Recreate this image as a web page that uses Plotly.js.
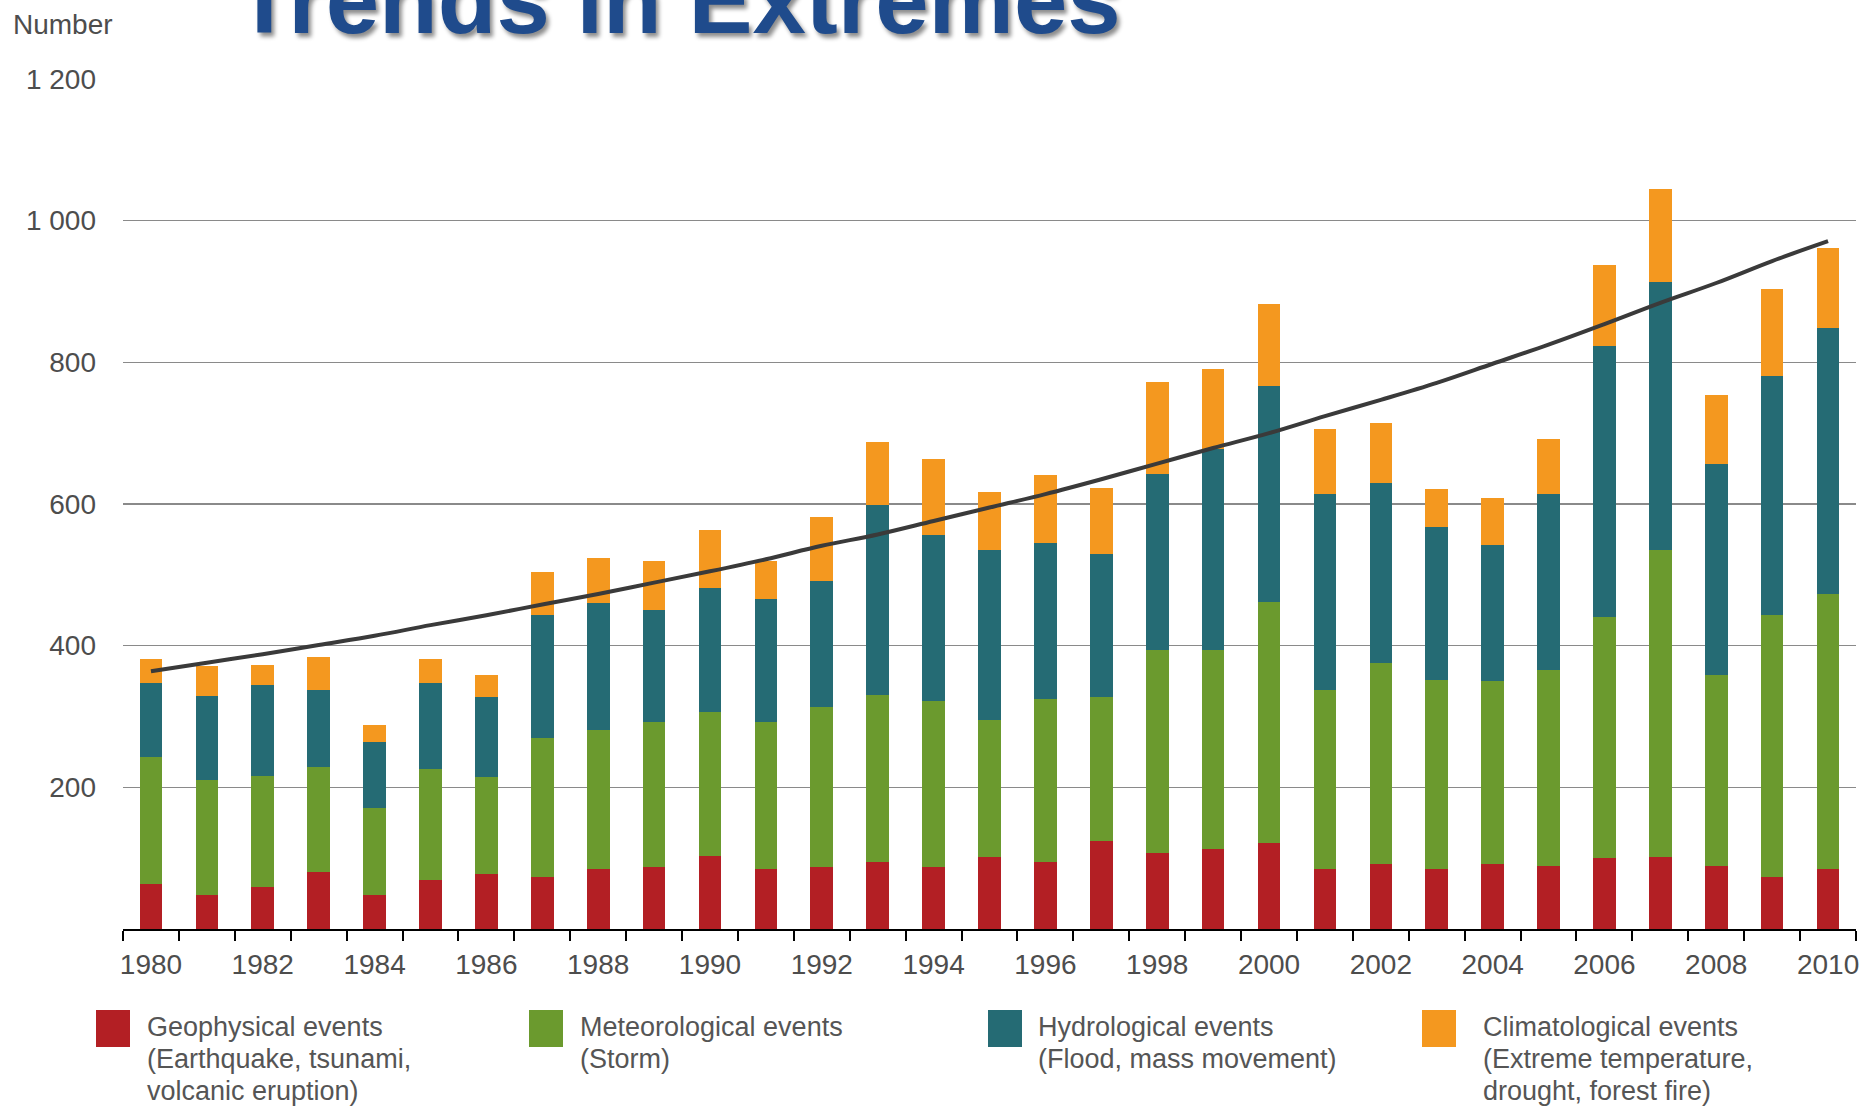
<!DOCTYPE html>
<html>
<head>
<meta charset="utf-8">
<script src="https://cdn.plot.ly/plotly-3.0.1.min.js"></script>
<style>
html,body{margin:0;padding:0;background:#ffffff;}
#chart{width:1866px;height:1106px;}
</style>
</head>
<body>
<div id="chart"></div>
<script>
// ---------------- DATA ----------------
const years = [1980,1981,1982,1983,1984,1985,1986,1987,1988,1989,1990,1991,1992,1993,1994,1995,1996,1997,1998,1999,2000,2001,2002,2003,2004,2005,2006,2007,2008,2009,2010];
const geophysical    = [63,48,59,80,48,69,77,73,85,88,103,85,87,95,88,101,95,124,107,113,122,85,92,85,92,89,100,102,89,74,85];
const meteorological = [180,163,157,149,123,157,138,197,196,204,203,207,227,236,234,194,230,204,287,281,339,252,284,266,258,276,341,433,269,369,388];
const hydrological   = [104,118,128,108,93,121,112,174,179,159,175,174,177,267,234,240,220,202,249,283,305,277,254,217,192,249,382,379,299,338,376];
const climatological = [34,43,29,47,24,34,31,60,64,69,83,54,91,90,107,82,96,92,129,114,116,92,85,53,66,78,115,131,97,123,112];
const trend          = [364,376,388,401,414,429,443,458,473,489,505,522,541,557,576,595,614,635,657,679,700,724,747,771,798,825,854,884,912,943,971];

const seriesNames = ['Geophysical events','Meteorological events','Hydrological events','Climatological events'];
const legendLines = [
  ['Geophysical events','(Earthquake, tsunami,','volcanic eruption)'],
  ['Meteorological events','(Storm)'],
  ['Hydrological events','(Flood, mass movement)'],
  ['Climatological events','(Extreme temperature,','drought, forest fire)']
];
const xTickVals = [1980,1982,1984,1986,1988,1990,1992,1994,1996,1998,2000,2002,2004,2006,2008,2010];
const yTickVals = [200,400,600,800,1000,1200];
const yTickText = ['200','400','600','800','1 000','1 200'];
const chartTitle = 'Trends in Extremes';
const yLabel = 'Number';

// ---------------- STYLE ----------------
const colors = ['#b31f24','#6b9a2e','#256b74','#f4981f'];
const regular = '"Liberation Sans", Arial, sans-serif';
const textGray = '#4d4d4d';

const W = 1866, H = 1106;
const M = {l:123, r:10, t:79, b:177};
const pw = W - M.l - M.r, ph = H - M.t - M.b;
const px = x => (x - M.l) / pw;
const py = y => (H - M.b - y) / ph;

// ---------------- TRACES ----------------
const seriesData = [geophysical, meteorological, hydrological, climatological];
const traces = seriesData.map((vals, i) => ({
  type: 'bar',
  x: years,
  y: vals,
  name: seriesNames[i],
  marker: {color: colors[i], line: {width: 0}},
  hoverinfo: 'x+y+name'
}));
traces.push({
  type: 'scatter',
  mode: 'lines',
  x: years,
  y: trend,
  name: 'Trend',
  line: {color: '#3a3a3a', width: 4, shape: 'spline'},
  hoverinfo: 'skip'
});

// ---------------- LEGEND (drawn) ----------------
const legendSquareX = [96, 529, 988, 1422];
const legendTextX = [145, 578, 1036, 1481];
const legendLineCenters = [1027, 1059, 1091];
const shapes = [];
const annotations = [];
legendLines.forEach((lines, i) => {
  shapes.push({
    type: 'rect', xref: 'paper', yref: 'paper',
    x0: px(legendSquareX[i]), x1: px(legendSquareX[i] + 34),
    y0: py(1047), y1: py(1010),
    fillcolor: colors[i], line: {width: 0}
  });
  lines.forEach((t, j) => {
    annotations.push({
      text: t, xref: 'paper', yref: 'paper',
      x: px(legendTextX[i]), y: py(legendLineCenters[j]),
      xanchor: 'left', yanchor: 'middle', showarrow: false,
      font: {family: regular, size: 27, color: '#555555'}
    });
  });
});

annotations.push({
  text: '<b>' + chartTitle + '</b>', xref: 'paper', yref: 'paper',
  x: px(233), y: py(0), xanchor: 'left', yanchor: 'middle', showarrow: false,
  font: {family: regular, size: 96, color: '#1f4b8c', shadow: '3px 4px 4px rgba(0,0,0,0.45)'}
});
annotations.push({
  text: yLabel, xref: 'paper', yref: 'paper',
  x: px(11), y: py(24.5), xanchor: 'left', yanchor: 'middle', showarrow: false,
  font: {family: regular, size: 28, color: textGray}
});

const layout = {
  width: W, height: H,
  margin: M,
  paper_bgcolor: '#ffffff', plot_bgcolor: '#ffffff',
  barmode: 'stack',
  bargap: 0.595,
  showlegend: false,
  xaxis: {
    range: [1979.5, 2010.5],
    tickmode: 'array', tickvals: xTickVals,
    ticks: '',
    showline: true, linecolor: '#000000', linewidth: 2,
    showgrid: false, zeroline: false,
    minor: {ticks: 'outside', tick0: 1979.5, dtick: 1, ticklen: 10, tickwidth: 2, tickcolor: '#000000', showgrid: false},
    tickfont: {family: regular, size: 28, color: textGray},
    ticklabelstandoff: 9,
    fixedrange: true
  },
  yaxis: {
    range: [0, 1200],
    tickmode: 'array', tickvals: yTickVals, ticktext: yTickText,
    ticks: '',
    showgrid: true, gridcolor: '#8a8a8a', gridwidth: 1.6,
    zeroline: false, showline: false,
    tickfont: {family: regular, size: 28, color: textGray},
    ticklabelstandoff: 26,
    fixedrange: true
  },
  shapes: shapes,
  annotations: annotations
};

Plotly.newPlot('chart', traces, layout, {displayModeBar: false, staticPlot: true});
</script>
</body>
</html>
